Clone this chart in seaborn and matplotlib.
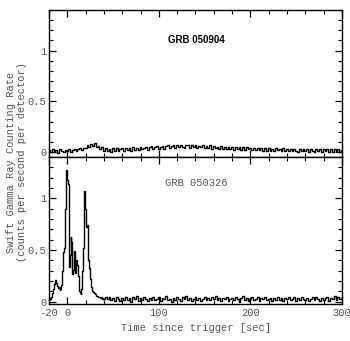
import numpy as np
import pandas as pd
import matplotlib
matplotlib.use("Agg")
import matplotlib.pyplot as plt
from matplotlib.ticker import MultipleLocator, FixedLocator
import seaborn as sns

# ---- light curves (counts per second per detector) ----
# GRB 050904: 2 s bins from -20 to 300 s
t_904 = np.arange(-20, 301, 2)
rate_904 = [
    # -20 .. 18
    0.015, -0.005, 0.025, 0.002, 0.020, -0.008, 0.028, 0.005, -0.002, 0.022,
    0.008, 0.030, 0.000, 0.018, 0.032, 0.006, 0.024, 0.038, 0.020, 0.042,
    # 20 .. 38
    0.035, 0.065, 0.045, 0.082, 0.058, 0.085, 0.050, 0.060, 0.028, 0.045,
    # 40 .. 72
    0.012, 0.038, 0.008, 0.032, 0.000, 0.036, 0.012, 0.040, 0.005, 0.030,
    0.038, 0.010, 0.042, 0.018, 0.035, 0.012, 0.044,
    # 74 .. 116
    0.020, 0.040, 0.015, 0.048, 0.025, 0.042, 0.050, 0.020, 0.045, 0.055,
    0.028, 0.048, 0.058, 0.030, 0.052, 0.062, 0.032, 0.055, 0.064, 0.035,
    0.058, 0.066,
    # 118 .. 160
    0.040, 0.068, 0.045, 0.072, 0.050, 0.035, 0.066, 0.070, 0.040, 0.064,
    0.048, 0.070, 0.036, 0.062, 0.044, 0.068, 0.034, 0.060, 0.040, 0.064,
    0.032, 0.058,
    # 162 .. 200
    0.036, 0.050, 0.030, 0.055, 0.026, 0.052, 0.032, 0.046, 0.024, 0.050,
    0.020, 0.048, 0.028, 0.052, 0.022, 0.045, 0.018, 0.046, 0.024, 0.040,
    # 202 .. 250
    0.020, 0.042, 0.015, 0.040, 0.018, 0.035, 0.012, 0.038, 0.010, 0.036,
    0.014, 0.032, 0.008, 0.035, 0.016, 0.030, 0.010, 0.034, 0.012, 0.030,
    0.008, 0.032, 0.010, 0.028, 0.012,
    # 252 .. 300
    0.004, 0.030, 0.010, 0.032, 0.006, 0.028, 0.002, 0.030, 0.012, 0.004,
    0.028, 0.008, 0.032, 0.000, 0.026, 0.008, 0.030, 0.004, 0.026, 0.000,
    0.028, 0.006, 0.024, 0.002, 0.022,
]

# GRB 050326: 1 s bins over the burst (-20..40 s), 2 s bins afterwards
t_326 = np.concatenate([np.arange(-20, 41), np.arange(42, 301, 2)])
rate_326 = [
    # -20 .. -1
    0.02, 0.04, 0.03, 0.05, 0.08, 0.12, 0.17, 0.21, 0.18, 0.15,
    0.13, 0.14, 0.11, 0.12, 0.16, 0.30, 0.48, 0.52, 0.90, 1.27,
    # 0 .. 19
    1.18, 1.14, 0.34, 0.45, 0.63, 0.58, 0.27, 0.31, 0.49, 0.28,
    0.40, 0.36, 0.25, 0.10, 0.08, 0.07, 0.12, 0.30, 0.52, 1.07,
    # 20 .. 40
    0.90, 0.72, 0.74, 0.40, 0.33, 0.22, 0.14, 0.12, 0.10, 0.09,
    0.08, 0.07, 0.06, 0.06, 0.05, 0.05, 0.04, 0.05, 0.03, 0.04,
    0.03,
    # 42 .. 300
    0.042, 0.028, 0.050, 0.015, 0.036, 0.010, 0.045, 0.027, 0.005, 0.040,
    0.020, 0.048, 0.012, 0.032, 0.000, 0.042, 0.022, 0.052, 0.010, 0.035,
    0.016, 0.046, 0.025, 0.006, 0.038, 0.018, 0.050, 0.014, 0.030, 0.044,
    0.008, 0.034, 0.022, 0.056, 0.012, 0.028, 0.002, 0.040, 0.020, 0.048,
    0.031, 0.010, 0.044, 0.025, 0.060, 0.016, 0.036, 0.008, 0.028, 0.046,
    0.014, 0.038, 0.004, 0.030, 0.050, 0.020, 0.034, 0.012, 0.042, 0.024,
    0.052, 0.018, 0.032, 0.006, 0.040, 0.022, 0.047, 0.010, 0.030, 0.036,
    0.016, 0.045, 0.028, 0.002, 0.034, 0.055, 0.020, 0.038, 0.008, 0.031,
    0.044, 0.014, 0.030, 0.050, 0.004, 0.036, 0.022, 0.042, 0.012, 0.028,
    0.040, 0.010, 0.034, 0.020, 0.048, 0.016, 0.032, 0.004, 0.038, 0.024,
    0.050, 0.014, 0.028, 0.042, 0.008, 0.034, 0.018, 0.046, 0.022, 0.012,
    0.036, 0.006, 0.030, 0.044, 0.016, 0.050, 0.024, 0.004, 0.040, 0.020,
    0.032, 0.046, 0.010, 0.036, 0.022, 0.052, 0.014, 0.042, 0.026, 0.034,
]

x_ticks = [-20, 0, 100, 200, 300]
x_tick_labels = ["-20", "0", "100", "200", "300"]
y_ticks = [0, 0.5, 1]
y_tick_labels = ["0", "0.5", "1"]

grb_top = "GRB 050904"
grb_bottom = "GRB 050326"
x_label = "Time since trigger [sec]"
y_label = "Swift Gamma Ray Counting Rate\n(counts per second per detector)"

# ---- styling ----
sns.set_style("ticks")
mono = ["Liberation Mono", "DejaVu Sans Mono"]
text_grey = "#555555"
plt.rcParams["font.family"] = mono
plt.rcParams["axes.linewidth"] = 1.0

df_top = pd.DataFrame({"t": t_904, "rate": rate_904})
df_bot = pd.DataFrame({"t": t_326, "rate": rate_326})

fig = plt.figure(figsize=(3.5, 3.41), dpi=100)
ax_top = fig.add_axes([0.140, 0.5396, 0.837, 0.4311])
ax_bot = fig.add_axes([0.140, 0.1085, 0.837, 0.4311])

for ax, df in ((ax_top, df_top), (ax_bot, df_bot)):
    sns.lineplot(data=df, x="t", y="rate", ax=ax, color="black",
                 linewidth=1.0, drawstyle="steps-mid", estimator=None,
                 sort=False)
    ax.set_xlim(-20, 300)
    ax.set_xlabel("")
    ax.set_ylabel("")
    ax.xaxis.set_major_locator(FixedLocator(x_ticks))
    ax.xaxis.set_minor_locator(MultipleLocator(20))
    ax.yaxis.set_major_locator(FixedLocator(y_ticks))
    ax.yaxis.set_minor_locator(MultipleLocator(0.1))
    ax.tick_params(which="both", direction="in", top=True, right=True,
                   colors="black", labelcolor=text_grey, labelsize=7.5)
    ax.tick_params(which="major", length=5, width=0.9)
    ax.tick_params(which="minor", length=2.6, width=0.8)
    ax.tick_params(axis="y", pad=2)
    ax.tick_params(axis="x", pad=3)
    ax.set_yticklabels(y_tick_labels)
    for s in ax.spines.values():
        s.set_color("black")

ax_top.set_ylim(-0.05, 1.40)
ax_bot.set_ylim(-0.022, 1.40)

ax_top.set_xticklabels([])
ax_bot.set_xticklabels(x_tick_labels)

ax_top.text(141, 1.10, grb_top, ha="center", va="center", fontsize=7,
            fontweight="bold", family=["Liberation Sans", "DejaVu Sans"],
            color="black")
ax_bot.text(141, 1.15, grb_bottom, ha="center", va="center", fontsize=7.5,
            color=text_grey)

fig.text(0.559, 0.038, x_label, ha="center", va="center", fontsize=7.5,
         color=text_grey)
fig.text(0.047, 0.525, y_label, ha="center", va="center", rotation=90,
         fontsize=7.5, color=text_grey, multialignment="center",
         linespacing=1.2)

fig.savefig("out.png", dpi=100)
